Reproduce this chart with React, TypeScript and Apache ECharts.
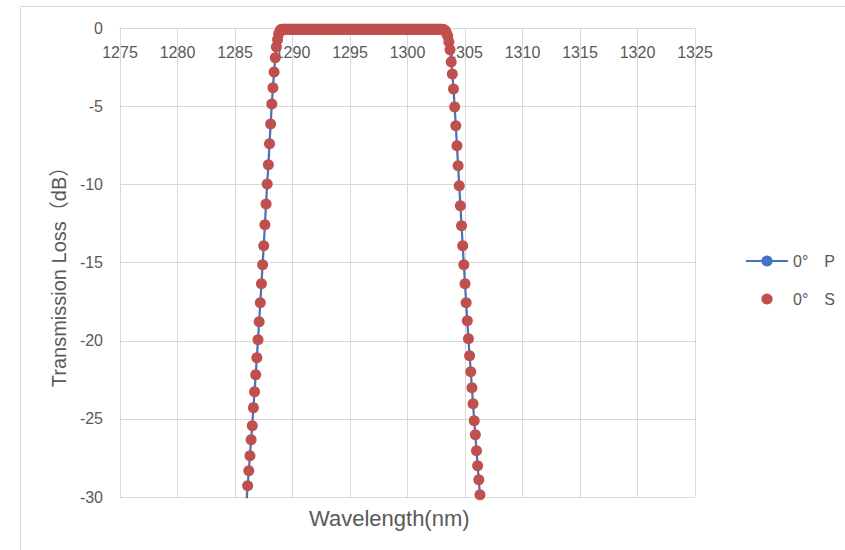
import React, { useEffect, useRef } from "react";
import * as echarts from "echarts";

// Wavelength samples (nm)
const wavelength = [
  1286.0, 1286.1, 1286.2, 1286.3, 1286.4, 1286.5, 1286.6, 1286.7, 1286.8, 1286.9,
  1287.0, 1287.1, 1287.2, 1287.3, 1287.4, 1287.5, 1287.6, 1287.7, 1287.8, 1287.9,
  1288.0, 1288.1, 1288.2, 1288.3, 1288.4, 1288.5, 1288.6, 1288.7, 1288.8, 1288.9,
  1289.0, 1289.1, 1289.2, 1289.3, 1289.4, 1289.5, 1289.6, 1289.7, 1289.8, 1289.9,
  1290.0, 1290.1, 1290.2, 1290.3, 1290.4, 1290.5, 1290.6, 1290.7, 1290.8, 1290.9,
  1291.0, 1291.1, 1291.2, 1291.3, 1291.4, 1291.5, 1291.6, 1291.7, 1291.8, 1291.9,
  1292.0, 1292.1, 1292.2, 1292.3, 1292.4, 1292.5, 1292.6, 1292.7, 1292.8, 1292.9,
  1293.0, 1293.1, 1293.2, 1293.3, 1293.4, 1293.5, 1293.6, 1293.7, 1293.8, 1293.9,
  1294.0, 1294.1, 1294.2, 1294.3, 1294.4, 1294.5, 1294.6, 1294.7, 1294.8, 1294.9,
  1295.0, 1295.1, 1295.2, 1295.3, 1295.4, 1295.5, 1295.6, 1295.7, 1295.8, 1295.9,
  1296.0, 1296.1, 1296.2, 1296.3, 1296.4, 1296.5, 1296.6, 1296.7, 1296.8, 1296.9,
  1297.0, 1297.1, 1297.2, 1297.3, 1297.4, 1297.5, 1297.6, 1297.7, 1297.8, 1297.9,
  1298.0, 1298.1, 1298.2, 1298.3, 1298.4, 1298.5, 1298.6, 1298.7, 1298.8, 1298.9,
  1299.0, 1299.1, 1299.2, 1299.3, 1299.4, 1299.5, 1299.6, 1299.7, 1299.8, 1299.9,
  1300.0, 1300.1, 1300.2, 1300.3, 1300.4, 1300.5, 1300.6, 1300.7, 1300.8, 1300.9,
  1301.0, 1301.1, 1301.2, 1301.3, 1301.4, 1301.5, 1301.6, 1301.7, 1301.8, 1301.9,
  1302.0, 1302.1, 1302.2, 1302.3, 1302.4, 1302.5, 1302.6, 1302.7, 1302.8, 1302.9,
  1303.0, 1303.1, 1303.2, 1303.3, 1303.4, 1303.5, 1303.6, 1303.7, 1303.8, 1303.9,
  1304.0, 1304.1, 1304.2, 1304.3, 1304.4, 1304.5, 1304.6, 1304.7, 1304.8, 1304.9,
  1305.0, 1305.1, 1305.2, 1305.3, 1305.4, 1305.5, 1305.6, 1305.7, 1305.8, 1305.9,
  1306.0, 1306.1, 1306.2, 1306.3,
];

// 0° P transmission loss (dB)
const pLoss = [
  -30.3, -29.28, -28.32, -27.36, -26.33, -25.44, -24.28, -23.26, -22.17, -21.09,
  -19.94, -18.78, -17.57, -16.35, -15.14, -13.92, -12.58, -11.24, -9.96, -8.74,
  -7.39, -6.12, -4.84, -3.81, -2.79, -1.89, -1.19, -0.74, -0.36, -0.17,
  -0.08, -0.06, -0.06, -0.06, -0.06, -0.06, -0.06, -0.06, -0.06, -0.06,
  -0.06, -0.06, -0.06, -0.06, -0.06, -0.06, -0.06, -0.06, -0.06, -0.06,
  -0.06, -0.06, -0.06, -0.06, -0.06, -0.06, -0.06, -0.06, -0.06, -0.06,
  -0.06, -0.06, -0.06, -0.06, -0.06, -0.06, -0.06, -0.06, -0.06, -0.06,
  -0.06, -0.06, -0.06, -0.06, -0.06, -0.06, -0.06, -0.06, -0.06, -0.06,
  -0.06, -0.06, -0.06, -0.06, -0.06, -0.06, -0.06, -0.06, -0.06, -0.06,
  -0.06, -0.06, -0.06, -0.06, -0.06, -0.06, -0.06, -0.06, -0.06, -0.06,
  -0.06, -0.06, -0.06, -0.06, -0.06, -0.06, -0.06, -0.06, -0.06, -0.06,
  -0.06, -0.06, -0.06, -0.06, -0.06, -0.06, -0.06, -0.06, -0.06, -0.06,
  -0.06, -0.06, -0.06, -0.06, -0.06, -0.06, -0.06, -0.06, -0.06, -0.06,
  -0.06, -0.06, -0.06, -0.06, -0.06, -0.06, -0.06, -0.06, -0.06, -0.06,
  -0.06, -0.06, -0.06, -0.06, -0.06, -0.06, -0.06, -0.06, -0.06, -0.06,
  -0.06, -0.06, -0.06, -0.06, -0.06, -0.06, -0.06, -0.06, -0.06, -0.06,
  -0.06, -0.06, -0.06, -0.06, -0.06, -0.06, -0.06, -0.06, -0.06, -0.06,
  -0.06, -0.07, -0.1, -0.18, -0.32, -0.5, -0.88, -1.38, -2.15, -2.92,
  -3.88, -5.03, -6.24, -7.52, -8.8, -10.08, -11.36, -12.64, -13.92, -15.14,
  -16.35, -17.57, -18.72, -19.87, -20.96, -21.98, -23.01, -24.03, -25.12, -26.01,
  -27.04, -28.0, -28.9, -29.85,
];

// 0° S transmission loss (dB) – coincides with P at this scale
const sLoss = [...pLoss];

const seriesNames = ["0°\u3000P", "0°\u3000S"];
const xTicks = { min: 1275, max: 1325, interval: 5 };
const yTicks = { min: -30, max: 0, interval: 5 };
const xTitle = "Wavelength(nm)";
const yTitle = "Transmission Loss（dB）";

const FONT = "'Liberation Sans', Arial, 'Noto Sans CJK SC', sans-serif";
const GRAY_TEXT = "#595959";
const GRID_LINE = "#D9D9D9";

export default function App() {
  const ref = useRef<HTMLDivElement>(null);

  useEffect(() => {
    if (!ref.current) return;
    const chart = echarts.init(ref.current, undefined, { renderer: "svg" });
    const pData = wavelength.map((w, i) => [w, pLoss[i]]);
    const sData = wavelength.map((w, i) => [w, sLoss[i]]);

    chart.setOption({
      animation: false,
      backgroundColor: "#ffffff",
      textStyle: { fontFamily: FONT },
      grid: { left: 120, right: 150, top: 28.3, bottom: 53, containLabel: false },
      legend: {
        orient: "vertical",
        left: 745,
        top: 253,
        padding: 0,
        itemWidth: 42,
        itemHeight: 14,
        itemGap: 22,
        textStyle: { fontSize: 16, color: GRAY_TEXT, fontFamily: FONT },
        data: [{ name: seriesNames[0] }, { name: seriesNames[1] }],
      },
      xAxis: {
        type: "value",
        position: "top",
        min: xTicks.min,
        max: xTicks.max,
        interval: xTicks.interval,
        axisLine: { show: true, onZero: false, lineStyle: { color: GRID_LINE, width: 1 } },
        axisTick: { show: false },
        axisLabel: {
          inside: true,
          margin: 16,
          color: GRAY_TEXT,
          fontSize: 16,
          fontFamily: FONT,
          formatter: (v: number) => String(v),
        },
        splitLine: { show: true, lineStyle: { color: GRID_LINE, width: 1 } },
      },
      yAxis: {
        type: "value",
        min: yTicks.min,
        max: yTicks.max,
        interval: yTicks.interval,
        axisLine: { show: true, lineStyle: { color: GRID_LINE, width: 1 } },
        axisTick: { show: false },
        axisLabel: {
          margin: 17,
          color: GRAY_TEXT,
          fontSize: 16,
          fontFamily: FONT,
          formatter: (v: number) => String(v),
        },
        splitLine: { show: true, lineStyle: { color: GRID_LINE, width: 1 } },
      },
      graphic: [
        {
          type: "rect",
          silent: true,
          shape: { x: 20.5, y: 6.5, width: 900, height: 600 },
          style: { fill: "none", stroke: GRID_LINE, lineWidth: 1 },
        },
        {
          type: "text",
          left: 309,
          top: 507,
          style: {
            text: xTitle,
            fontSize: 22,
            fill: GRAY_TEXT,
            fontFamily: FONT,
          },
        },
        {
          type: "text",
          x: 59,
          y: 272,
          rotation: Math.PI / 2,
          style: {
            text: yTitle,
            fontSize: 20,
            fill: GRAY_TEXT,
            fontFamily: FONT,
            align: "center",
            verticalAlign: "middle",
          },
        },
      ],
      series: [
        {
          name: seriesNames[0],
          type: "line",
          data: pData,
          symbol: "circle",
          symbolSize: 9,
          showSymbol: true,
          showAllSymbol: true,
          clip: true,
          lineStyle: { color: "#4472C4", width: 2.25 },
          itemStyle: { color: "#4472C4" },
          z: 2,
        },
        {
          name: seriesNames[1],
          type: "line",
          data: sData,
          symbol: "circle",
          symbolSize: 11,
          showSymbol: true,
          showAllSymbol: true,
          clip: true,
          lineStyle: { color: "#C0504D", width: 0, opacity: 0 },
          itemStyle: { color: "#C0504D", opacity: 1 },
          z: 3,
        },
      ],
    });

    return () => chart.dispose();
  }, []);

  return (
    <div
      ref={ref}
      style={{ position: "fixed", left: 0, top: 0, width: 845, height: 550 }}
    />
  );
}
